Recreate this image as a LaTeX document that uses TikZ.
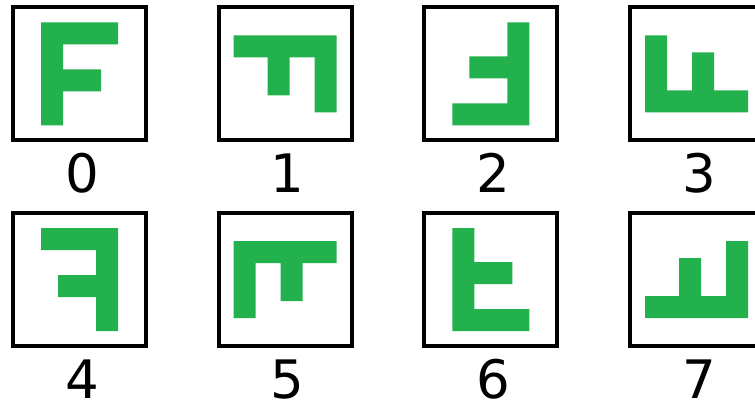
\documentclass[tikz,border=0pt]{standalone}
\usepackage{fontspec}
\setmainfont{DejaVu Sans}
\begin{document}
\begin{tikzpicture}[x=1pt,y=1pt]
\definecolor{fgreen}{RGB}{34,177,76}
\tikzset{
  frame/.style={draw=black,line width=4pt,minimum width=133pt,minimum height=133pt,inner sep=0pt,outer sep=0pt},
  lab/.style={font=\fontsize{53}{60}\selectfont,anchor=base,inner sep=0pt},
  fglyph/.pic={\fill[fgreen] (-38.5,-51.5) -- (-38.5,51.5) -- (38.5,51.5) -- (38.5,29.5) -- (-16.5,29.5) -- (-16.5,4.5) -- (21.5,4.5) -- (21.5,-17.5) -- (-16.5,-17.5) -- (-16.5,-51.5) -- cycle;}
}
\useasboundingbox (0,0) rectangle (755,-401);
\clip (0,0) rectangle (755,-401);
% boxes
\node[frame] (b0) at (79.5,-73.8) {};
\node[frame] (b1) at (285.2,-73.8) {};
\node[frame] (b2) at (490.9,-73.8) {};
\node[frame] (b3) at (696.6,-73.8) {};
\node[frame] (b4) at (79.5,-279.5) {};
\node[frame] (b5) at (285.2,-279.5) {};
\node[frame] (b6) at (490.9,-279.5) {};
\node[frame] (b7) at (696.6,-279.5) {};
% glyphs
\pic at (b0.center) {fglyph};
\pic[rotate=-90] at (b1.center) {fglyph};
\pic[rotate=180] at (b2.center) {fglyph};
\pic[rotate=90] at (b3.center) {fglyph};
\pic[cm={-1,0,0,1,(0,0)}] at (b4.center) {fglyph};
\pic[cm={0,-1,-1,0,(0,0)}] at (b5.center) {fglyph};
\pic[cm={1,0,0,-1,(0,0)}] at (b6.center) {fglyph};
\pic[cm={0,1,1,0,(0,0)}] at (b7.center) {fglyph};
% labels
\foreach \i in {0,...,7}{
  \node[lab] (l\i) at ([xshift=2.5pt,yshift=-118.6pt]b\i.center) {\i};
}
\end{tikzpicture}
\end{document}
